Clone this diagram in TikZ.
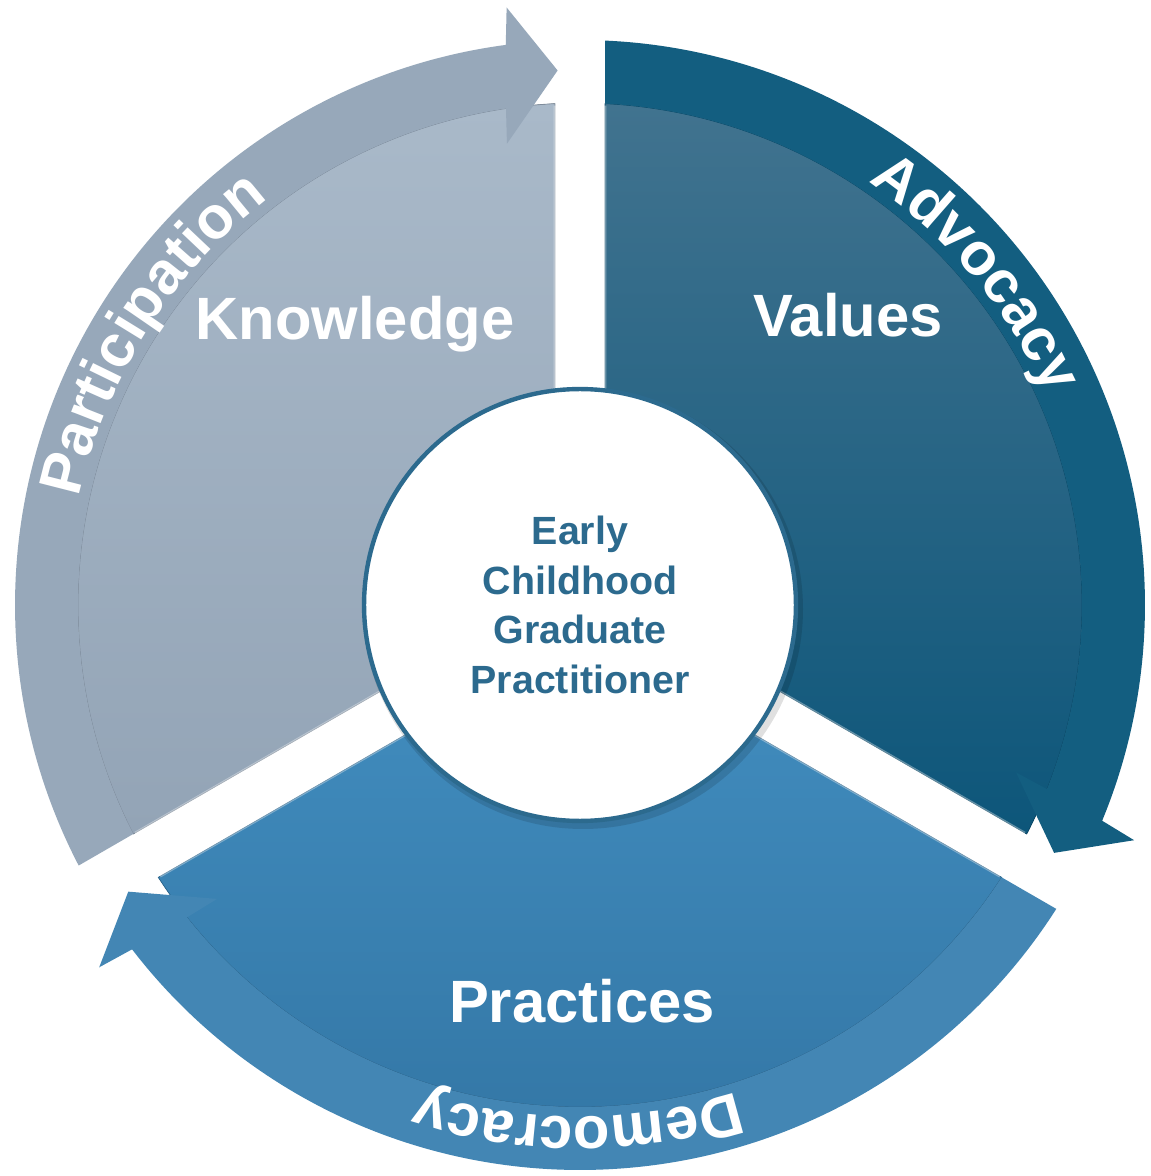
\documentclass[tikz,border=0pt]{standalone}
\usepackage{fontspec}
\setmainfont{Liberation Sans}
\usetikzlibrary{decorations.text}
\definecolor{kband}{HTML}{97A8BA}
\definecolor{khi}{HTML}{A9B9C9}
\definecolor{klo}{HTML}{93A4B6}
\definecolor{vband}{HTML}{135E80}
\definecolor{vhi}{HTML}{41738F}
\definecolor{vlo}{HTML}{0D567A}
\definecolor{pband}{HTML}{4386B4}
\definecolor{phi}{HTML}{428EC0}
\definecolor{plo}{HTML}{3478A7}
\definecolor{hubink}{HTML}{2C6A8E}
\newcommand{\bandfont}{\fontsize{34}{34}\selectfont\bfseries}

\begin{document}
\begin{tikzpicture}[
  x=0.02cm,
  y=0.02cm,
  every node/.style={inner sep=0pt},
  sectorlabel/.style={anchor=base, text=white, font=\bandfont},
  bandtext/.style={decorate, decoration={text along path,
      text align=center, text color=white, text={|\bandfont|#1}}},
  edgelight/.style={white, opacity=0.35, line width=1.5pt},
  hub/.style={circle, draw=hubink, line width=2.5pt, fill=white,
              minimum size=8.64cm, align=center, text=hubink,
              font=\fontsize{22.4}{28.3}\selectfont\bfseries}
]
  % ---- canvas ----
  \fill[white] (-580,-571) rectangle (570,605);
  \useasboundingbox (-580,-571) rectangle (570,605);

  % ---- three sectors: inner slice + curved arrow band ----
  \foreach \e/\s/\band/\hi/\lo in {90/210/kband/khi/klo,
                                   -30/90/vband/vhi/vlo,
                                   210/330/pband/phi/plo}{
    \pgfmathsetmacro{\midang}{(\e+\s)/2}
    \fill[top color=\hi, bottom color=\lo, draw=\lo!85!black, line width=0.4pt]
      (\midang:28.9) -- ({\e+2.86}:502)
      arc[start angle=\e+2.86, end angle=\s-2.86, radius=502] -- cycle;
    \draw[edgelight] (\midang:28.9) -- ({\e+2.86}:500);
    \draw[edgelight] (\midang:28.9) -- ({\s-2.86}:500);
    \fill[\band] ({\s-2.86}:502) -- ({\s-2.54}:565)
      arc[start angle=\s-2.54, end angle=\e+7.55, radius=565]
      -- ({\e+7}:602) -- ({\e+2.4}:535) -- ({\e+9}:467) -- ({\e+8.48}:502)
      arc[start angle=\e+8.48, end angle=\s-2.86, radius=502] -- cycle;
  }

  % ---- words on the bands ----
  \path[bandtext=Participation]
    (187.7:512) arc[start angle=187.7, end angle=107.7, radius=512];
  \path[bandtext=Advocacy]
    (79.9:512) arc[start angle=79.9, end angle=-0.1, radius=512];
  \path[bandtext=Democracy]
    (309.8:512) arc[start angle=309.8, end angle=229.8, radius=512];

  % ---- sector labels ----
  \node[sectorlabel] (knowledge) at (-225,265) {Knowledge};
  \node[sectorlabel] (values) at (268,268) {Values};
  \node[sectorlabel] (practices) at (2,-417) {Practices};

  % ---- hub ----
  \fill[black, opacity=0.12] (3,-4) circle[radius=220];
  \node[hub] (hub) at (0,0) {Early\\Childhood\\Graduate\\Practitioner};
\end{tikzpicture}
\end{document}
